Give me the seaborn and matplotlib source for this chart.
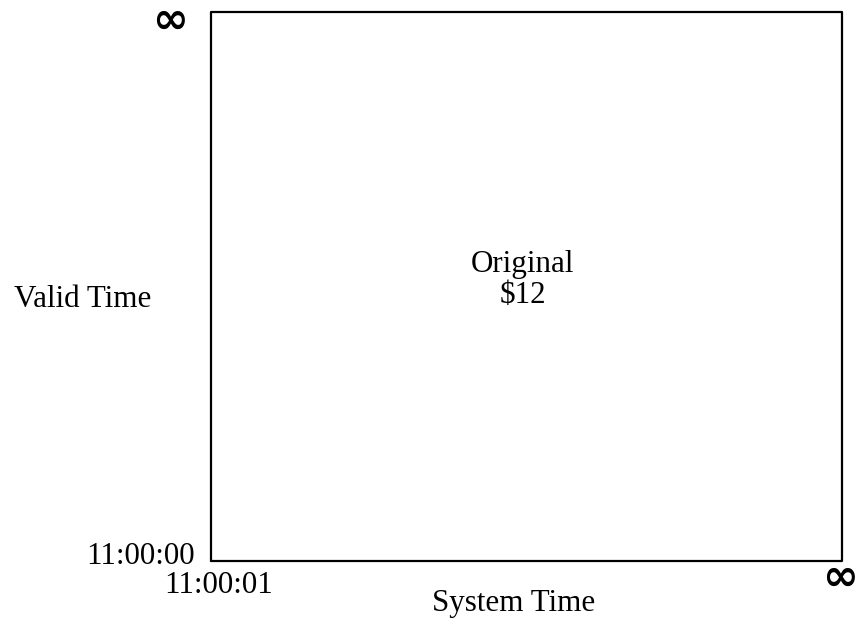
import matplotlib
matplotlib.use("Agg")
import matplotlib.pyplot as plt
import seaborn as sns
import pandas as pd

# Data
system_start, system_end = 0.0, 1.0
valid_start, valid_end = 0.0, 1.0
x_tick_labels = ["11:00:01", "\u221e"]
y_tick_labels = ["11:00:00", "\u221e"]
region_label = "Original"
region_value = "$12"
x_axis_label = "System Time"
y_axis_label = "Valid Time"

sns.set_theme(style="white")
plt.rcParams["font.family"] = ["Liberation Serif", "DejaVu Serif"]
plt.rcParams["text.color"] = "black"

fig = plt.figure(figsize=(8.58, 6.2), dpi=100)
ax = fig.add_axes([211 / 858, 1 - 561 / 620, (842 - 211) / 858, (561 - 12) / 620])

box = pd.DataFrame({
    "sys": [system_start, system_end, system_end, system_start, system_start],
    "valid": [valid_start, valid_start, valid_end, valid_end, valid_start],
})
sns.lineplot(data=box, x="sys", y="valid", sort=False, estimator=None,
             color="black", linewidth=1.6, ax=ax, clip_on=False)

ax.set_xlim(system_start, system_end)
ax.set_ylim(valid_start, valid_end)
ax.axis("off")

fs = 22.3
kw = dict(fontsize=fs, color="black")
ax.text(0.494, 0.526, region_label, ha="center", va="baseline", **kw)
ax.text(0.494, 0.470, region_value.replace("$", r"\$"), ha="center", va="baseline", **kw)
ax.text(-0.204, 0.463, y_axis_label, ha="center", va="baseline", **kw)
ax.text(0.479, -0.091, x_axis_label, ha="center", va="baseline", **kw)
ax.text(-0.112, -0.0055, y_tick_labels[0], ha="center", va="baseline", **kw)
ax.text(0.0119, -0.0583, x_tick_labels[0], ha="center", va="baseline", **kw)
inf_kw = dict(fontsize=31, color="black", family=["DejaVu Sans"], weight="semibold",
              ha="center", va="center")
ax.text(0.997, -0.031, x_tick_labels[1], **inf_kw)
ax.text(-0.065, 0.984, y_tick_labels[1], **inf_kw)

fig.savefig("out.png", dpi=100)
